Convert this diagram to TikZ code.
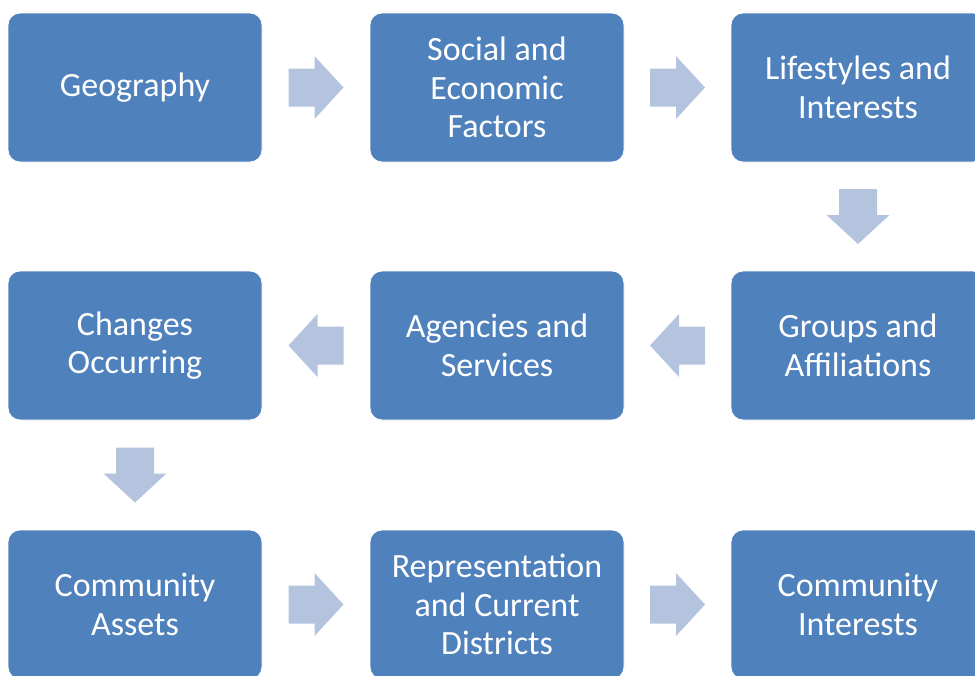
\documentclass[tikz,border=0pt]{standalone}
\usepackage{fontspec}
\setmainfont{Carlito}
\usetikzlibrary{calc}
\definecolor{boxblue}{HTML}{4F81BD}
\definecolor{arrowblue}{HTML}{B4C4DF}
\begin{document}
\begin{tikzpicture}[x=1pt,y=-1pt,
  stepbox/.style={rectangle, rounded corners=12pt, fill=boxblue, draw=white, line width=0.8pt,
    minimum width=254pt, minimum height=149pt, text=white, align=center,
    font=\fontsize{34}{38.5}\selectfont},
  blockarrow/.pic={\fill[arrowblue] (-27.5,-19) -- (-1.5,-19) -- (-1.5,-31.5) -- (27.5,0)
      -- (-1.5,31.5) -- (-1.5,19) -- (-27.5,19) -- cycle;}]
\useasboundingbox (0,0) rectangle (975,675);
\node[stepbox] (geo) at (135,87.5) {Geography};
\node[stepbox] (soc) at (497,87.5) {Social and\\Economic\\Factors};
\node[stepbox] (life) at (858,87.5) {Lifestyles and\\Interests};
\node[stepbox] (chg) at (135,345.5) {Changes\\Occurring};
\node[stepbox] (agn) at (497,345.5) {Agencies and\\Services};
\node[stepbox] (grp) at (858,345.5) {Groups and\\Affiliations};
\node[stepbox] (ast) at (135,604.5) {Community\\Assets};
\node[stepbox] (rep) at (497,604.5) {Representation\\and Current\\Districts};
\node[stepbox] (cint) at (858,604.5) {Community\\Interests};
\coordinate (a1) at ($(geo.east)!0.5!(soc.west)$);
\coordinate (a2) at ($(soc.east)!0.5!(life.west)$);
\coordinate (a3) at ($(life.south)!0.5!(grp.north)$);
\coordinate (a4) at ($(grp.west)!0.5!(agn.east)$);
\coordinate (a5) at ($(agn.west)!0.5!(chg.east)$);
\coordinate (a6) at ($(chg.south)!0.5!(ast.north)$);
\coordinate (a7) at ($(ast.east)!0.5!(rep.west)$);
\coordinate (a8) at ($(rep.east)!0.5!(cint.west)$);
\pic at (a1) {blockarrow};
\pic at (a2) {blockarrow};
\pic[rotate=-90] at (a3) {blockarrow};
\pic[rotate=180] at (a4) {blockarrow};
\pic[rotate=180] at (a5) {blockarrow};
\pic[rotate=-90] at (a6) {blockarrow};
\pic at (a7) {blockarrow};
\pic at (a8) {blockarrow};
\end{tikzpicture}
\end{document}
